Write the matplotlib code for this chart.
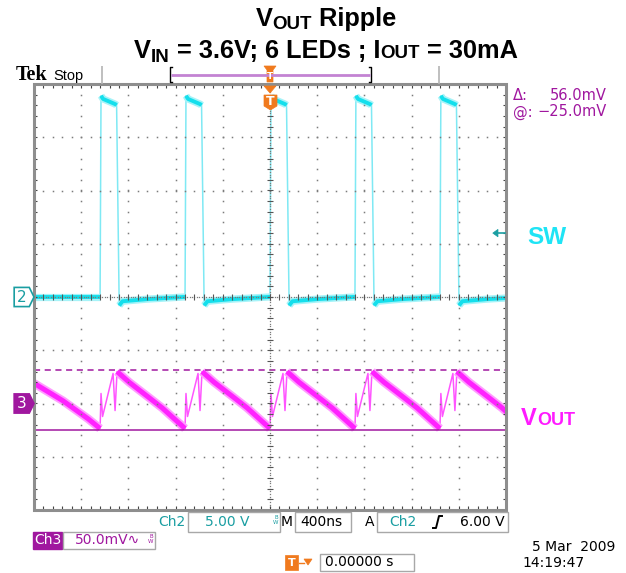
import numpy as np
import matplotlib
matplotlib.use("Agg")
import matplotlib.pyplot as plt
from matplotlib.patches import Polygon, Rectangle

# scope settings
t_div_ns = 400
ch2_v_div = 5.0
ch3_mv_div = 50.0
ch3_pos_div = -2.0
trig_level_v = 6.0
cursor_mv = [-25.0, 31.0]          # solid cursor, dashed cursor

# SW (Ch2): rising edges and one switching cycle relative to each edge
sw_rise_ns = [-1440, -720, 0, 720, 1440]
sw_cycle_t = [0, 8, 25, 130, 140, 162, 190, 400, 710]
sw_cycle_v = [0.0, 18.9, 18.6, 18.1, 18.0, -0.8, -0.4, -0.2, 0.0]
sw_lead_t = [-2000, -1450]
sw_lead_v = [0.0, 0.0]

# VOUT (Ch3, AC coupled, mV)
vout_lead_t = [-2000, -1754, -1540]
vout_lead_mv = [19.0, 2.5, -14.5]
vout_cycle_t = [0, 8, 21, 110, 127, 144, 246, 415, 525, 620]
vout_cycle_mv = [-23.5, 9.4, -12.2, 28.2, -6.6, 30.0, 20.0, 5.5, -4.0, -13.5]
vout_tail_t = [2160]
vout_tail_mv = [-23.5]

W, H = 626, 573
fig = plt.figure(figsize=(W / 100, H / 100), dpi=100)
fig.patch.set_facecolor("white")

# graticule axes in divisions
gl, gt, gr, gb = 34, 84, 506, 510
ax = fig.add_axes([gl / W, 1 - gb / H, (gr - gl) / W, (gb - gt) / H])
ax.set_xlim(-5, 5)
ax.set_ylim(-4, 4)
ax.axis("off")

# overlay in pixel coordinates for the surrounding decorations
ov = fig.add_axes([0, 0, 1, 1], zorder=5)
ov.set_xlim(0, W)
ov.set_ylim(H, 0)
ov.axis("off")
ov.patch.set_alpha(0)

GRID = "#7c7c7c"

# grid dots
dots_y = np.arange(-4, 4.001, 0.2)
dots_x = np.arange(-5, 5.001, 0.2)
for xv in range(-4, 5):
    if xv != 0:
        ax.plot(np.full_like(dots_y, xv), dots_y, ls="none", marker="s",
                ms=1.1, mew=0, color=GRID, zorder=3)
for yv in range(-3, 4):
    if yv != 0:
        ax.plot(dots_x, np.full_like(dots_x, yv), ls="none", marker="s",
                ms=1.1, mew=0, color=GRID, zorder=3)
# centre lines with ticks
cx = np.arange(-5, 5.001, 0.05)
cy = np.arange(-4, 4.001, 0.05)
ax.plot(cx, np.zeros_like(cx), ls="none", marker="s", ms=0.9, mew=0, color=GRID, zorder=3)
ax.plot(np.zeros_like(cy), cy, ls="none", marker="s", ms=0.9, mew=0, color=GRID, zorder=3)
ax.vlines(dots_x, -0.06, 0.06, color="#555555", lw=0.8, zorder=3)
ax.hlines(dots_y, -0.07, 0.07, color="#555555", lw=0.8, zorder=3)
# border ticks
ax.vlines(dots_x, 3.93, 4, color="#444444", lw=0.8, zorder=3)
ax.vlines(dots_x, -4, -3.93, color="#444444", lw=0.8, zorder=3)
ax.hlines(dots_y, -5, -4.93, color="#444444", lw=0.8, zorder=3)
ax.hlines(dots_y, 4.93, 5, color="#444444", lw=0.8, zorder=3)
ax.add_patch(Rectangle((-5, -4), 10, 8, fill=False, ec="#8e8e8e", lw=2.2,
                       clip_on=False, zorder=4))


def build(lead_t, lead_v, rises, cyc_t, cyc_v, tail_t=(), tail_v=()):
    t = list(lead_t)
    v = list(lead_v)
    for r in rises:
        t += [r + dt for dt in cyc_t]
        v += list(cyc_v)
    t += list(tail_t)
    v += list(tail_v)
    return np.array(t, float), np.array(v, float)


def draw_trace(x, y, core, halo, thin, lw_core, lw_halo):
    # thin line everywhere, thick noisy-looking band on the slow parts
    ax.plot(x, y, color=thin, lw=1.1, zorder=2)
    steep = np.abs(np.diff(y)) > 2.0 * np.abs(np.diff(x))
    runs, cur = [], []
    for i, s in enumerate(steep):
        if not s:
            if not cur:
                cur = [i]
            cur.append(i + 1)
        elif cur:
            runs.append(cur)
            cur = []
    if cur:
        runs.append(cur)
    for idx in runs:
        ax.plot(x[idx], y[idx], color=halo, lw=lw_halo, solid_capstyle="butt",
                solid_joinstyle="round", zorder=2)
        ax.plot(x[idx], y[idx], color=core, lw=lw_core, solid_capstyle="butt",
                solid_joinstyle="round", zorder=2)


sw_t, sw_v = build(sw_lead_t, sw_lead_v, sw_rise_ns, sw_cycle_t, sw_cycle_v)
draw_trace(sw_t / t_div_ns, sw_v / ch2_v_div, "#14dfec", "#a6f3f8", "#7fe9f4", 2.8, 5.2)

vo_t, vo_mv = build(vout_lead_t, vout_lead_mv, sw_rise_ns, vout_cycle_t,
                    vout_cycle_mv, vout_tail_t, vout_tail_mv)
draw_trace(vo_t / t_div_ns, vo_mv / ch3_mv_div + ch3_pos_div,
           "#ff22ff", "#ff9cff", "#ff55ff", 3.6, 6.2)

# cursors
PURPLE = "#a0179f"
ax.axhline(cursor_mv[0] / ch3_mv_div + ch3_pos_div, color=PURPLE, lw=1.1, zorder=2.5)
ax.axhline(cursor_mv[1] / ch3_mv_div + ch3_pos_div, color=PURPLE, lw=1.1,
           ls=(0, (4, 3)), zorder=2.5)

# channel ground markers
def ch_marker(ylev, label, face, edge, txt):
    h = 0.18
    ax.add_patch(Polygon([(-5.42, ylev + h), (-5.1, ylev + h), (-5.0, ylev),
                          (-5.1, ylev - h), (-5.42, ylev - h)], closed=True,
                         fc=face, ec=edge, lw=1.2, clip_on=False, zorder=6))
    ax.text(-5.27, ylev, label, color=txt, fontsize=11, ha="center", va="center",
            clip_on=False, zorder=7)


TEAL = "#1a9ea2"
ch_marker(0.0, "2", "white", TEAL, TEAL)
ch_marker(ch3_pos_div, "3", PURPLE, PURPLE, "white")

# trigger level arrow on right edge
tl = trig_level_v / ch2_v_div
ax.add_patch(Polygon([(4.72, tl), (4.83, tl + 0.07), (4.83, tl - 0.07)],
                     closed=True, fc=TEAL, ec=TEAL, lw=0.5, zorder=6))
ax.plot([4.83, 4.97], [tl, tl], color=TEAL, lw=1.2, zorder=6)

# ---------- overlay decorations ----------
ORANGE = "#f07a1e"
renderer = fig.canvas.get_renderer()


def put_parts(x, y, parts, ha="center", color="black", family="Liberation Sans",
              weight="bold"):
    objs = []
    widths = []
    for s, size, dy in parts:
        t = ov.text(0, 0, s, fontsize=size, color=color, family=family,
                    weight=weight, va="baseline", ha="left")
        widths.append(t.get_window_extent(renderer).width)
        objs.append((t, dy))
    x0 = x - sum(widths) / 2 if ha == "center" else x
    for (t, dy), w in zip(objs, widths):
        t.set_position((x0, y + dy))
        x0 += w


put_parts(326, 26, [("V", 18.3, 0), ("OUT", 13.5, 3), (" Ripple", 18.3, 0)])
put_parts(326, 58, [("V", 18.3, 0), ("IN", 13.5, 4), (" = 3.6V; 6 LEDs ; I", 18.3, 0),
                    ("OUT", 13.5, 0), (" = 30mA", 18.3, 0)])

ov.text(16, 80, "Tek", fontsize=14.5, family="Liberation Serif", weight="bold",
        va="baseline")
ov.text(53, 80, "Stop", fontsize=10.5, family="Liberation Sans", va="baseline")

# record bar
ov.vlines([102, 439], 66, 84, color="#b4b4b4", lw=1.2)
ov.plot([172, 170, 170, 172], [67, 67, 82, 82], color="black", lw=1)
ov.plot([369, 371, 371, 369], [67, 67, 82, 82], color="black", lw=1)
ov.hlines(75, 171, 370, color="#c383d3", lw=2)
ov.add_patch(Polygon([(264, 66), (276, 66), (273, 70), (273, 82), (267, 82), (267, 70)],
                     closed=True, fc=ORANGE, ec=ORANGE, lw=0.5))
ov.text(270, 76.5, "T", fontsize=6.5, color="white", weight="bold", ha="center",
        va="center")

# trigger position marker inside graticule
ov.add_patch(Polygon([(264, 86), (276, 86), (270, 93)], closed=True, fc=ORANGE,
                     ec=ORANGE, lw=0.5))
ov.add_patch(Polygon([(264, 95), (277, 95), (277, 106), (270.5, 110), (264, 106)],
                     closed=True, fc=ORANGE, ec=ORANGE, lw=0.5))
ov.text(270.5, 101.5, "T", fontsize=9, color="white", weight="bold", ha="center",
        va="center")

# cursor readouts
delta = cursor_mv[1] - cursor_mv[0]
ov.text(513, 96, "\u0394:", fontsize=10.5, color=PURPLE, va="center")
ov.text(607, 96, f"{delta:.1f}mV", fontsize=10.5, color=PURPLE, va="center", ha="right")
ov.text(513, 112, "@:", fontsize=10.5, color=PURPLE, va="center")
ov.text(607, 112, f"{cursor_mv[0]:.1f}mV".replace("-", "\u2212"), fontsize=10.5,
        color=PURPLE, va="center", ha="right")

# channel labels
ov.text(527, 244, "SW", fontsize=17.5, color="#1fe4f5", weight="bold",
        family="Liberation Sans", va="baseline")
put_parts(521, 425, [("V", 17, 0), ("OUT", 13, 0)], ha="left", color="#ff1bff")

# bottom status area
FS = 10
ov.text(158, 522, "Ch2", fontsize=FS, color=TEAL, va="center")
ov.add_patch(Rectangle((188, 512), 92, 20, fc="white", ec="#a8a8a8", lw=1))
ov.text(205, 522, f"{ch2_v_div:.2f} V", fontsize=FS, color=TEAL, va="center")
ov.text(278, 520, "B\nW", fontsize=4, color=TEAL, va="center", ha="right",
        linespacing=0.8)
ov.text(281, 522, "M", fontsize=FS, va="center")
ov.add_patch(Rectangle((295, 512), 56, 20, fc="white", ec="#a8a8a8", lw=1))
ov.text(300, 522, f"{t_div_ns}ns", fontsize=FS, va="center")
ov.text(365, 522, "A", fontsize=FS, va="center")
ov.add_patch(Rectangle((377, 512), 131, 20, fc="white", ec="#a8a8a8", lw=1))
ov.text(389, 522, "Ch2", fontsize=FS, color=TEAL, va="center")
ov.plot([433, 436, 439, 442], [528, 528, 516, 516], color="black", lw=1.4)
ov.text(505, 522, f"{trig_level_v:.2f} V", fontsize=FS, va="center", ha="right")

ov.add_patch(Rectangle((33, 532), 29, 17, fc=PURPLE, ec=PURPLE, lw=1))
ov.text(47.5, 540.5, "Ch3", fontsize=FS, color="white", va="center", ha="center")
ov.add_patch(Rectangle((63, 532), 92, 17, fc="white", ec="#a8a8a8", lw=1))
ov.text(75, 540.5, f"{ch3_mv_div:.1f}mV\u223f", fontsize=FS, color=PURPLE, va="center")
ov.text(153, 539, "B\nW", fontsize=4, color=PURPLE, va="center", ha="right",
        linespacing=0.8)

ov.text(615, 547, "5 Mar  2009", fontsize=FS, va="center", ha="right")
ov.text(522, 563, "14:19:47", fontsize=FS, va="center")

ov.add_patch(Rectangle((285, 555), 13, 15, fc=ORANGE, ec=ORANGE, lw=0.5))
ov.text(291.5, 562.5, "T", fontsize=8, color="white", weight="bold", ha="center",
        va="center")
ov.plot([299, 304], [562.5, 562.5], color=ORANGE, lw=1)
ov.add_patch(Polygon([(304, 559), (312, 559), (308, 565)], closed=True, fc=ORANGE,
                     ec=ORANGE, lw=0.5))
ov.add_patch(Rectangle((320, 554), 94, 17, fc="white", ec="#a8a8a8", lw=1))
ov.text(325, 562.5, "0.00000 s", fontsize=FS, va="center")

fig.savefig("out.png", dpi=100, facecolor="white")
